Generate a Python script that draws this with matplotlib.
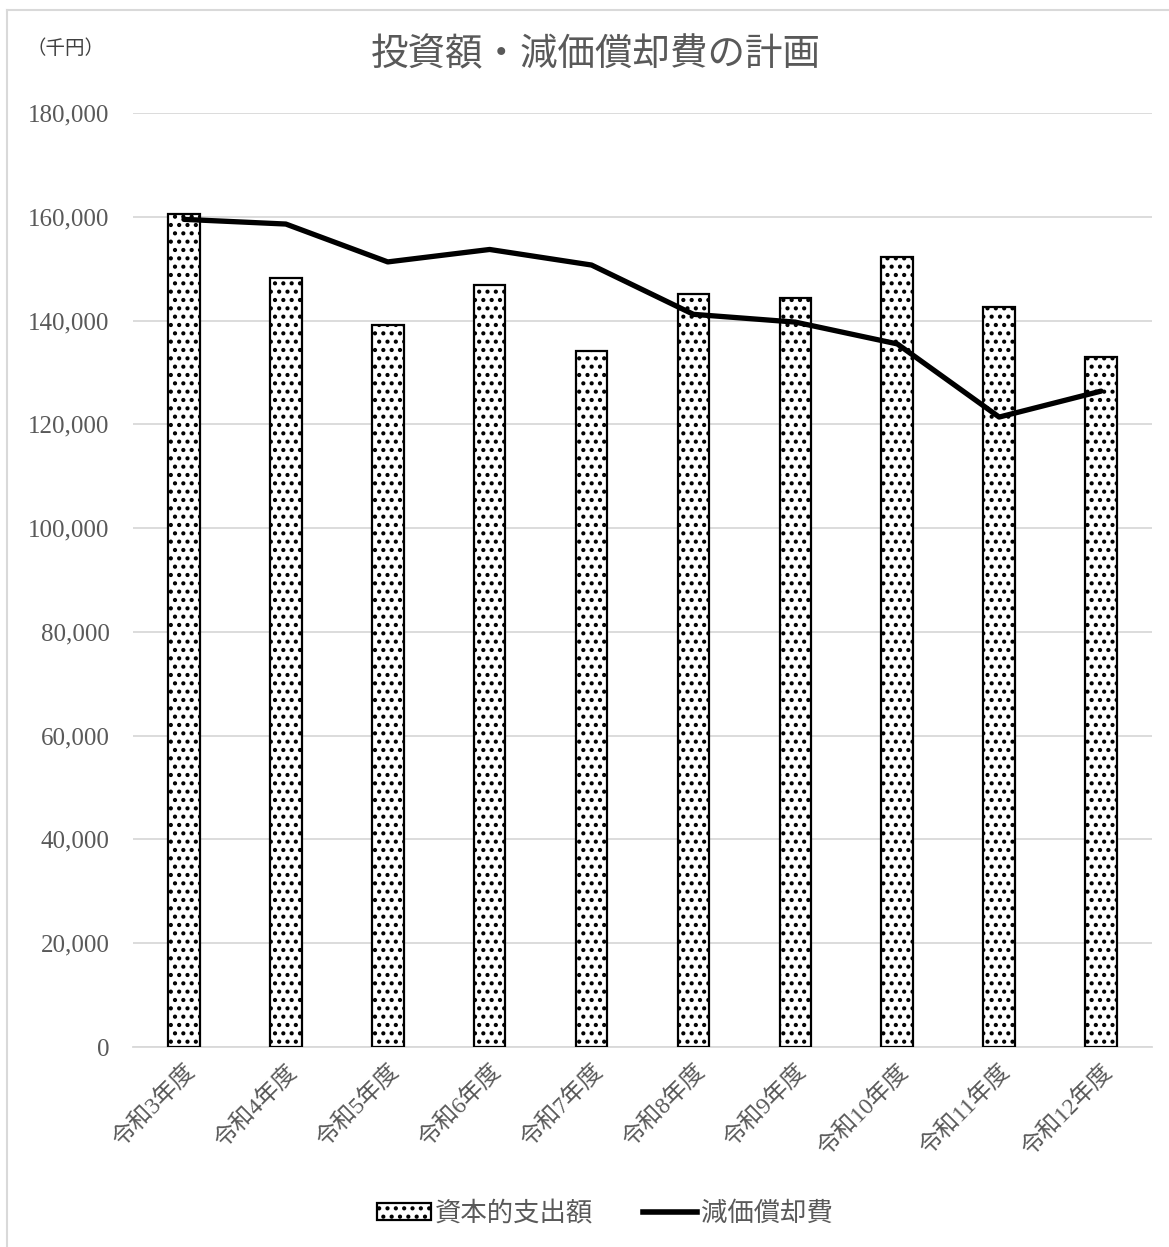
import matplotlib
matplotlib.use("Agg")
import matplotlib.pyplot as plt
from matplotlib.lines import Line2D
from matplotlib.ticker import FuncFormatter
import numpy as np

plt.rcParams['font.family'] = ['Liberation Serif', 'Noto Sans CJK JP', 'DejaVu Sans']
plt.rcParams['hatch.linewidth'] = 1.8

categories = ['令和3年度', '令和4年度', '令和5年度', '令和6年度', '令和7年度',
              '令和8年度', '令和9年度', '令和10年度', '令和11年度', '令和12年度']
capital_spending = [160500, 148200, 139100, 146800, 134100,
                    145100, 144300, 152200, 142600, 133000]
depreciation = [159500, 158600, 151300, 153700, 150700,
                141200, 139700, 135500, 121400, 126400]
y_ticks = list(range(0, 180001, 20000))

text_gray = '#595959'
grid_gray = '#d9d9d9'

fig = plt.figure(figsize=(11.69, 12.47), dpi=100)
ax = fig.add_axes([133/1169, 200/1247, (1152-133)/1169, (1047-113)/1247])

x = np.arange(len(categories))
ax.bar(x, capital_spending, width=0.31, color='white', edgecolor='black',
       linewidth=1.6, hatch='..', zorder=3)
ax.plot(x, depreciation, color='black', linewidth=3.8, solid_capstyle='round',
        solid_joinstyle='round', zorder=4)

ax.set_xlim(-0.5, len(categories) - 0.5)
ax.set_ylim(0, 180000)
ax.set_yticks(y_ticks)
ax.yaxis.set_major_formatter(FuncFormatter(lambda v, p: f'{int(v):,}'))
ax.set_xticks(x)
ax.set_xticklabels(categories, rotation=45, ha='right', va='top',
                   rotation_mode='anchor', fontsize=17, color=text_gray)
ax.tick_params(axis='y', labelsize=18, labelcolor=text_gray, length=0, pad=17)
ax.tick_params(axis='x', length=0, pad=10)
ax.grid(axis='y', color=grid_gray, linewidth=1.3, zorder=0)
for s in ['top', 'right', 'left']:
    ax.spines[s].set_visible(False)
ax.spines['bottom'].set_color(grid_gray)
ax.spines['bottom'].set_linewidth(1.3)

fig.text(596/1169, 1 - 55/1247, '投資額・減価償却費の計画', ha='center', va='center',
         fontsize=27, color=text_gray, family=['Noto Sans CJK JP'])
fig.text(66/1169, 1 - 48/1247, '（千円）', ha='center', va='center',
         fontsize=14, color='#404040', family=['Noto Sans CJK JP'])

# frame around the chart area
fig.add_artist(Line2D([7/1169, 1.0], [1 - 10/1247, 1 - 10/1247],
                      transform=fig.transFigure, color=grid_gray, linewidth=1.5))
fig.add_artist(Line2D([7/1169, 7/1169], [0, 1 - 10/1247],
                      transform=fig.transFigure, color=grid_gray, linewidth=1.5))

handles = [plt.Rectangle((0, 0), 1, 1, facecolor='white', edgecolor='black',
                         hatch='..', linewidth=1.6),
           Line2D([0], [0], color='black', linewidth=4)]
fig.legend(handles, ['資本的支出額', '減価償却費'], loc='center',
           bbox_to_anchor=(605/1169, 1 - 1213/1247), ncol=2, frameon=False,
           prop={'family': ['Noto Sans CJK JP'], 'size': 19},
           labelcolor=text_gray, handlelength=2.05, handletextpad=0.15,
           columnspacing=1.9, handleheight=0.6)

fig.savefig('out.png', dpi=100)
